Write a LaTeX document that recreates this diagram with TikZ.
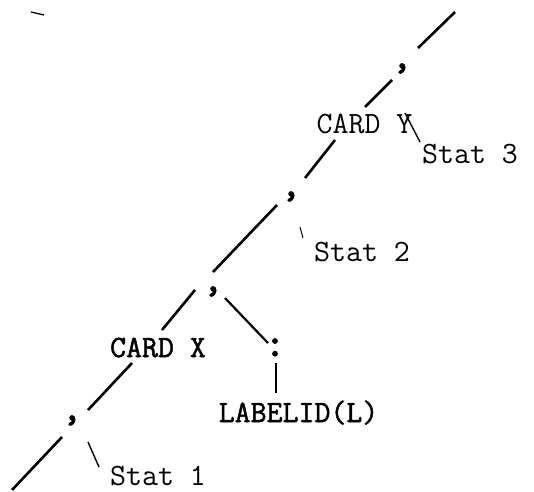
\documentclass[tikz,border=0pt]{standalone}
\usepackage{fontspec}
\newfontfamily\twb[FakeBold=1.6]{Latin Modern Mono}
\newfontfamily\twc[FakeBold=3]{Latin Modern Mono}
\begin{document}
\begin{tikzpicture}[x=1pt,y=-1pt,
  lbl/.style={anchor=base,inner sep=0pt,font=\ttfamily\fontsize{31}{31}\selectfont},
  blbl/.style={lbl,font=\twb\fontsize{31}{31}\selectfont},
  commanode/.style={anchor=base,inner sep=0pt,font=\twc\fontsize{38}{38}\selectfont},
  colonnode/.style={anchor=base,inner sep=0pt,font=\twc\fontsize{40}{40}\selectfont},
  spine/.style={line width=2.6pt},
  thinbr/.style={line width=1.4pt},
  midbr/.style={line width=2.2pt}]
\useasboundingbox (0,0) rectangle (534,491);
% nodes
\node[commanode] (c1) at (402,68) {,};
\node[lbl] (cy) at (364.5,133) {CARD Y};
\node[lbl] (s3) at (470,163) {Stat 3};
\node[commanode] (c2) at (291,196) {,};
\node[lbl] (s2) at (362,261) {Stat 2};
\node[commanode] (c3) at (213,291) {,};
\node[blbl] (cx) at (158,357) {CARD X};
\node[colonnode] (col) at (275,356) {:};
\node[blbl] (lab) at (298.5,422) {LABELID(L)};
\node[commanode] (c4) at (72,420) {,};
\node[lbl] (s1) at (158,485) {Stat 1};
\coordinate (top) at (455,12);
\coordinate (bot) at (12,490);
% spine
\draw[spine] (top) -- ([shift={(16,-20)}]c1.base);
\draw[spine] ([shift={(-10,12)}]c1.base) -- ([shift={(0.5,-26)}]cy.base);
\draw[spine] ([shift={(-29.5,7)}]cy.base) -- ([shift={(14,-18)}]c2.base);
\draw[spine] ([shift={(-14,9)}]c2.base) -- ([shift={(0,-19)}]c3.base);
\draw[spine] ([shift={(-18,-1)}]c3.base) -- ([shift={(4,-27)}]cx.base);
\draw[spine] ([shift={(-26,6)}]cx.base) -- ([shift={(16,-10)}]c4.base);
\draw[spine] ([shift={(-10,17)}]c4.base) -- (bot);
% branches
\draw[thinbr] ([shift={(40.5,-20)}]cy.base) -- ([shift={(-50,-21)}]s3.base);
\draw[line width=1pt] ([shift={(9,31)}]c2.base) -- ([shift={(-59,-23)}]s2.base);
\draw[midbr] ([shift={(12,7)}]c3.base) -- ([shift={(-7,-13)}]col.base);
\draw[spine] ([shift={(1,7)}]col.base) -- ([shift={(-22.5,-29)}]lab.base);
\draw[thinbr] ([shift={(16,22)}]c4.base) -- ([shift={(-59,-18)}]s1.base);
% stray mark
\draw[line width=1.3pt] (31,12) -- (44,15);
\end{tikzpicture}
\end{document}
